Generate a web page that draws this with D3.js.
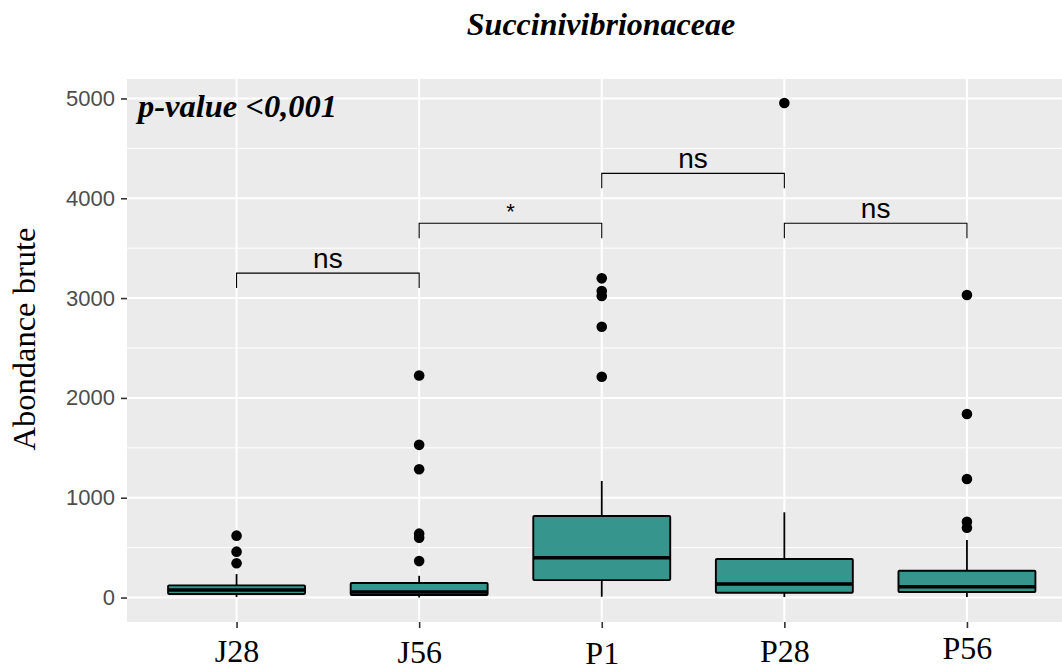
<!DOCTYPE html>
<html>
<head>
<meta charset="utf-8">
<script src="https://cdn.jsdelivr.net/npm/d3@7"></script>
<style>
  html, body { margin: 0; padding: 0; background: #fff; }
  svg { display: block; }
</style>
</head>
<body>
<div id="chart"></div>
<script>
// ---- data ----
const categories = ["J28", "J56", "P1", "P28", "P56"];
const whiskerLow = [5, 0, 8, 5, 5];
const q1 = [35, 25, 175, 48, 55];
const medians = [75, 55, 399, 135, 108];
const q3 = [122, 145, 817, 386, 269];
const whiskerHigh = [235, 218, 1168, 854, 576];
const outliers = [
  [620, 460, 343],
  [2225, 1530, 1285, 640, 600, 365],
  [3198, 3071, 3021, 2713, 2212],
  [4955],
  [3031, 1839, 1187, 760, 700]
];
const comparisons = [["J28", "J56"], ["J56", "P1"], ["P1", "P28"], ["P28", "P56"]];
const bracketY = [3250, 3750, 4250, 3750];
const sigLabels = ["ns", "*", "ns", "ns"];
const tipLength = 150;
const yTicks = [0, 1000, 2000, 3000, 4000, 5000];
const yMinorTicks = [500, 1500, 2500, 3500, 4500];
const titleText = "Succinivibrionaceae";
const pValueText = "p-value <0,001";
const yTitle = "Abondance brute";

// ---- layout ----
const W = 1062, H = 671;
const panel = { left: 127, right: 1076.5, top: 79, bottom: 622 };
const labelBaselines = { J28: 662, J56: 663, P1: 663.5, P28: 662, P56: 659 };

const svg = d3.select("#chart").append("svg")
  .attr("width", W).attr("height", H)
  .attr("viewBox", `0 0 ${W} ${H}`);

const x = d3.scalePoint().domain(categories)
  .range([panel.left, panel.right]).padding(0.6);
const y = d3.scaleLinear().domain([-245, 5195]).range([panel.bottom, panel.top]);
const boxW = x.step() * 0.75;

// panel background
svg.append("rect")
  .attr("x", panel.left).attr("y", panel.top)
  .attr("width", panel.right - panel.left).attr("height", panel.bottom - panel.top)
  .attr("fill", "#EBEBEB");

// minor grid
svg.append("g").selectAll("line").data(yMinorTicks).join("line")
  .attr("x1", panel.left).attr("x2", panel.right)
  .attr("y1", d => y(d)).attr("y2", d => y(d))
  .attr("stroke", "#fff").attr("stroke-width", 1);
// major grid
svg.append("g").selectAll("line").data(yTicks).join("line")
  .attr("x1", panel.left).attr("x2", panel.right)
  .attr("y1", d => y(d)).attr("y2", d => y(d))
  .attr("stroke", "#fff").attr("stroke-width", 2);
svg.append("g").selectAll("line").data(categories).join("line")
  .attr("x1", d => x(d)).attr("x2", d => x(d))
  .attr("y1", panel.top).attr("y2", panel.bottom)
  .attr("stroke", "#fff").attr("stroke-width", 2);

// boxplots
const boxes = svg.append("g").selectAll("g").data(categories).join("g");
boxes.append("line")
  .attr("x1", d => x(d)).attr("x2", d => x(d))
  .attr("y1", (d, i) => y(q3[i])).attr("y2", (d, i) => y(whiskerHigh[i]))
  .attr("stroke", "#000").attr("stroke-width", 1.8);
boxes.append("line")
  .attr("x1", d => x(d)).attr("x2", d => x(d))
  .attr("y1", (d, i) => y(q1[i])).attr("y2", (d, i) => y(whiskerLow[i]))
  .attr("stroke", "#000").attr("stroke-width", 1.8);
boxes.append("rect")
  .attr("x", d => x(d) - boxW / 2).attr("width", boxW)
  .attr("y", (d, i) => y(q3[i]))
  .attr("height", (d, i) => y(q1[i]) - y(q3[i]))
  .attr("fill", "#36958D").attr("stroke", "#000").attr("stroke-width", 1.9)
  .attr("rx", 1);
boxes.append("line")
  .attr("x1", d => x(d) - boxW / 2).attr("x2", d => x(d) + boxW / 2)
  .attr("y1", (d, i) => y(medians[i])).attr("y2", (d, i) => y(medians[i]))
  .attr("stroke", "#000").attr("stroke-width", 3.6);
boxes.each(function (d, i) {
  d3.select(this).selectAll("circle").data(outliers[i]).join("circle")
    .attr("cx", x(d)).attr("cy", v => y(v)).attr("r", 5.3).attr("fill", "#000");
});

// significance brackets
const br = svg.append("g").selectAll("g").data(comparisons).join("g");
br.append("path")
  .attr("d", (c, i) => {
    const x1 = x(c[0]), x2 = x(c[1]);
    const yt = y(bracketY[i]), yb = y(bracketY[i] - tipLength);
    return `M${x1},${yb}L${x1},${yt}L${x2},${yt}L${x2},${yb}`;
  })
  .attr("fill", "none").attr("stroke", "#000").attr("stroke-width", 1.1);
br.append("text")
  .attr("x", c => (x(c[0]) + x(c[1])) / 2)
  .attr("y", (c, i) => y(bracketY[i]) - (sigLabels[i] === "*" ? 4 : 5))
  .attr("text-anchor", "middle")
  .attr("font-family", "Liberation Sans, Arial, sans-serif")
  .attr("font-size", (c, i) => sigLabels[i] === "*" ? 22 : 28)
  .attr("fill", "#000")
  .text((c, i) => sigLabels[i]);

// y axis
const yAxisG = svg.append("g").attr("transform", `translate(${panel.left},0)`)
  .call(d3.axisLeft(y).tickValues(yTicks).tickSize(6).tickPadding(6).tickFormat(d3.format("d")));
yAxisG.select(".domain").remove();
yAxisG.selectAll(".tick line").attr("stroke", "#333").attr("stroke-width", 1.6);
yAxisG.selectAll(".tick text")
  .attr("fill", "#4D4D4D")
  .attr("font-family", "Liberation Sans, Arial, sans-serif")
  .attr("font-size", 22);

// x axis
const xAxisG = svg.append("g").attr("transform", `translate(0,${panel.bottom})`)
  .call(d3.axisBottom(x).tickSize(6).tickPadding(0));
xAxisG.select(".domain").remove();
xAxisG.selectAll(".tick line").attr("stroke", "#333").attr("stroke-width", 1.6);
xAxisG.selectAll(".tick text")
  .attr("fill", "#000")
  .attr("font-family", "Liberation Serif, Times New Roman, serif")
  .attr("font-size", 32)
  .attr("dy", null)
  .attr("y", d => labelBaselines[d] - panel.bottom);

// titles
svg.append("text")
  .attr("x", 601).attr("y", 35)
  .attr("text-anchor", "middle")
  .attr("font-family", "Liberation Serif, Times New Roman, serif")
  .attr("font-weight", "bold").attr("font-style", "italic")
  .attr("font-size", 32)
  .text(titleText);

svg.append("text")
  .attr("x", 138).attr("y", 117)
  .attr("font-family", "Liberation Serif, Times New Roman, serif")
  .attr("font-weight", "bold").attr("font-style", "italic")
  .attr("font-size", 32.5)
  .text(pValueText);

svg.append("text")
  .attr("transform", "translate(35,339) rotate(-90)")
  .attr("text-anchor", "middle")
  .attr("font-family", "Liberation Serif, Times New Roman, serif")
  .attr("font-size", 32.5)
  .text(yTitle);
</script>
</body>
</html>
